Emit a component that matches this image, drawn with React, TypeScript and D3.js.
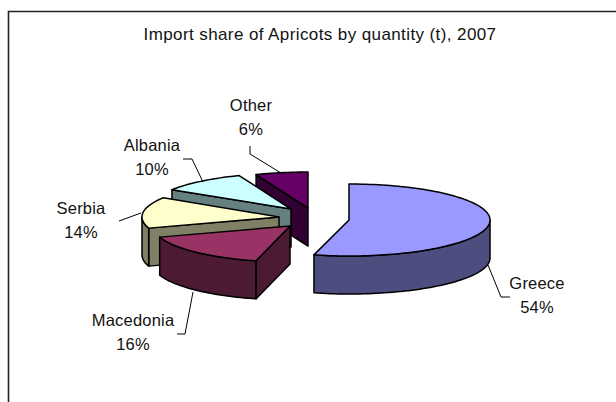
import React from "react";
import * as d3 from "d3";

const categories = ["Greece", "Macedonia", "Serbia", "Albania", "Other"];
const shares = [54, 16, 14, 10, 6];
const topColors = ["#9999FF", "#993366", "#FFFFCC", "#CCFFFF", "#660066"];
const sideColors = ["#4D4D80", "#4D1A33", "#808066", "#668080", "#330033"];
const title = "Import share of Apricots by quantity (t), 2007";

// exploded apex of every slice, in the chart's layout
const apexX = [349, 290, 279, 291, 308];
const apexY = [220, 226, 217, 209, 208];
const radiusX = [141, 137, 137, 141, 141];
const paintOrder = [4, 3, 2, 1, 0];

const RY = 36, DEPTH = 38;

// leader and label layout
const leaders = [
  [[488, 265], [501, 297], [510, 297]],
  [[193, 292], [185, 334], [177, 334]],
  [[141, 213], [119, 221]],
  [[203, 182], [192, 159], [183, 159]],
  [[281, 173], [250, 154], [250, 146]],
];
const labelX = [537, 133, 81, 152, 251];
const labelY = [289, 326, 214, 151, 111];

const FONT = "'Liberation Sans', Arial, sans-serif";
const LH = 24;

const pie = d3.pie<number>().sort(null).value((d) => d).startAngle(0).endAngle(2 * Math.PI);
const arcs = pie(shares);
const line = d3.line<[number, number]>();

function rim(i: number, a0: number, a1: number, dy = 0): [number, number][] {
  const n = Math.max(2, Math.ceil(Math.abs(a1 - a0) / 0.03));
  const s = d3.scaleLinear().domain([0, n]).range([a0, a1]);
  return d3.range(n + 1).map((k) => [
    apexX[i] + radiusX[i] * Math.sin(s(k)),
    apexY[i] - RY * Math.cos(s(k)) + dy,
  ]);
}

function Slice({ i }: { i: number }) {
  const { startAngle: a0, endAngle: a1 } = arcs[i];
  const apex: [number, number] = [apexX[i], apexY[i]];
  const down: [number, number] = [apexX[i], apexY[i] + DEPTH];
  const wall0 = Math.max(a0, Math.PI / 2);
  const wall1 = Math.min(a1, (3 * Math.PI) / 2);
  const faces: [number, number][][] = [];
  // radial cut at the slice start faces the viewer on the left half of the pie
  if (a0 > Math.PI && a0 < 2 * Math.PI) {
    const p = rim(i, a0, a0, 0)[0];
    faces.push([apex, p, [p[0], p[1] + DEPTH], down]);
  }
  // outer wall
  if (wall1 > wall0) {
    const top = rim(i, wall0, wall1);
    const bot = rim(i, wall1, wall0, DEPTH);
    faces.push([...top, ...bot]);
  }
  const topFace = [apex, ...rim(i, a0, a1)];
  return (
    <g stroke="#000" strokeWidth={1.5} strokeLinejoin="round">
      {faces.map((f, k) => (
        <path key={k} d={line(f) + "Z"} fill={sideColors[i]} />
      ))}
      <path d={line(topFace) + "Z"} fill={topColors[i]} />
    </g>
  );
}

export default function App() {
  return (
    <svg
      width={616}
      height={402}
      style={{ position: "fixed", left: 0, top: 0, background: "#fff" }}
      fontFamily={FONT}
      fontSize={16.5}
      fill="#111"
    >
      <path d="M8.5 402V11.5H616" fill="none" stroke="#222" strokeWidth={1.6} />
      <text x={320} y={40} textAnchor="middle" fontSize={17} letterSpacing={0.4}>{title}</text>
      {paintOrder.map((i) => (
        <Slice key={i} i={i} />
      ))}
      {leaders.map((pts, i) => (
        <path key={i} d={line(pts as [number, number][])!} fill="none" stroke="#000" strokeWidth={1} />
      ))}
      {categories.map((c, i) => (
        <text key={c} textAnchor="middle" letterSpacing={0.2}>
          <tspan x={labelX[i]} y={labelY[i]}>{c}</tspan>
          <tspan x={labelX[i]} y={labelY[i] + LH}>{shares[i]}%</tspan>
        </text>
      ))}
    </svg>
  );
}
